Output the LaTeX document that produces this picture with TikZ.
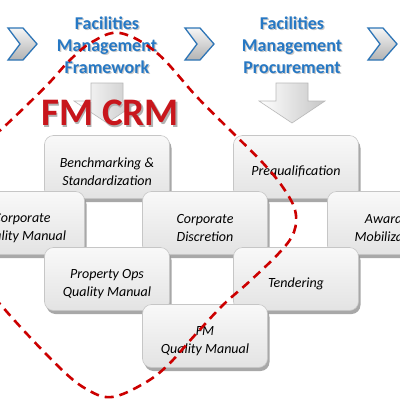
\documentclass[tikz,border=0pt]{standalone}
\usepackage{fontspec}
\setmainfont{Carlito}
\usetikzlibrary{shadows}
\definecolor{fmblue}{RGB}{38,120,196}
\definecolor{chevblue}{RGB}{46,117,182}
\definecolor{fmred}{RGB}{200,22,28}
\definecolor{dashred}{RGB}{204,0,0}
\tikzset{
  blk/.style={rounded corners=9pt, minimum width=125pt, minimum height=63pt,
    draw=gray!45, line width=0.6pt, top color=gray!5, bottom color=gray!22,
    drop shadow={shadow xshift=2pt, shadow yshift=-3.5pt, fill=gray!80, opacity=0.85},
    text height=19pt,
    align=center, font=\fontsize{14}{18}\selectfont\itshape, text=black},
  twoline/.style={text height=38pt},
  head/.style={align=center, text=fmblue, font=\fontsize{18}{22}\selectfont\bfseries},
  headshadow/.style={align=center, text=black!22, font=\fontsize{18}{22}\selectfont\bfseries},
  chev/.style={draw=chevblue, line width=1.3pt, top color=gray!8, bottom color=gray!60, line join=miter},
  arrfill/.style={draw=gray!55, line width=0.6pt, left color=white, right color=gray!45},
  chevron/.pic={\path[chev] (0,0)--(15,0)--(29,16)--(15,32)--(0,32)--(12,16)--cycle;},
  downarr/.pic={\path[arrfill] (-16,0)--(16,0)--(16,18)--(33,18)--(0,40)--(-33,18)--(-16,18)--cycle;},
  crmdash/.style={draw=dashred, line width=2.6pt, dash pattern=on 9pt off 6pt}
}
\begin{document}
\begin{tikzpicture}[x=1pt,y=-1pt]
\useasboundingbox (0,0) rectangle (400,400);
\clip (0,0) rectangle (400,400);
\fill[white] (0,0) rectangle (400,400);
% chevrons
\pic at (8,28) {chevron};
\pic at (185,28) {chevron};
\pic at (368,28) {chevron};
% headings
\node[headshadow] (fwsh) at (108.2,46.5) {Facilities\\Management\\Framework};
\node[head] (fw) at (107,45) {Facilities\\Management\\Framework};
\node[headshadow] (prsh) at (293.2,46.5) {Facilities\\Management\\Procurement};
\node[head] (pr) at (292,45) {Facilities\\Management\\Procurement};
% down arrows
\pic at (107,83) {downarr};
\pic at (292,83) {downarr};
% FM CRM
\node[text=black!30, font=\fontsize{39}{44}\selectfont\bfseries] (crmsh) at (111.5,115) {FM CRM};
\node[text=fmred, font=\fontsize{39}{44}\selectfont\bfseries] (crm) at (110,113) {FM CRM};
% boxes row 1
\node[blk, twoline] (bench) at (107,167) {Benchmarking \&\\Standardization};
\node[blk] (preq) at (296,167) {Prequalification};
% row 2
\node[blk, twoline] (cqm) at (22,223) {Corporate\\Quality Manual};
\node[blk, twoline] (cdisc) at (205,223) {Corporate\\Discretion};
\node[blk, twoline] (award) at (390,223) {Award \&\\Mobilization};
% row 3
\node[blk, twoline] (pops) at (107,279) {Property Ops\\Quality Manual};
\node[blk] (tend) at (296,279) {Tendering};
% row 4
\node[blk, twoline] (fmqm) at (205,336) {FM\\Quality Manual};
% dashed outline
\draw[crmdash] plot[smooth cycle, tension=0.6] coordinates {
 (120,33) (157,53) (197,97) (233,133) (262,162) (282,186) (295,210) (294,232)
 (280,252) (250,281) (223,305) (195,335) (167,366) (143,384) (112,397)
 (88,390) (60,368) (7,312) (-30,265) (-45,215) (-30,160) (5,126) (27,105)
 (50,82) (70,60) (92,42)};
\end{tikzpicture}
\end{document}
